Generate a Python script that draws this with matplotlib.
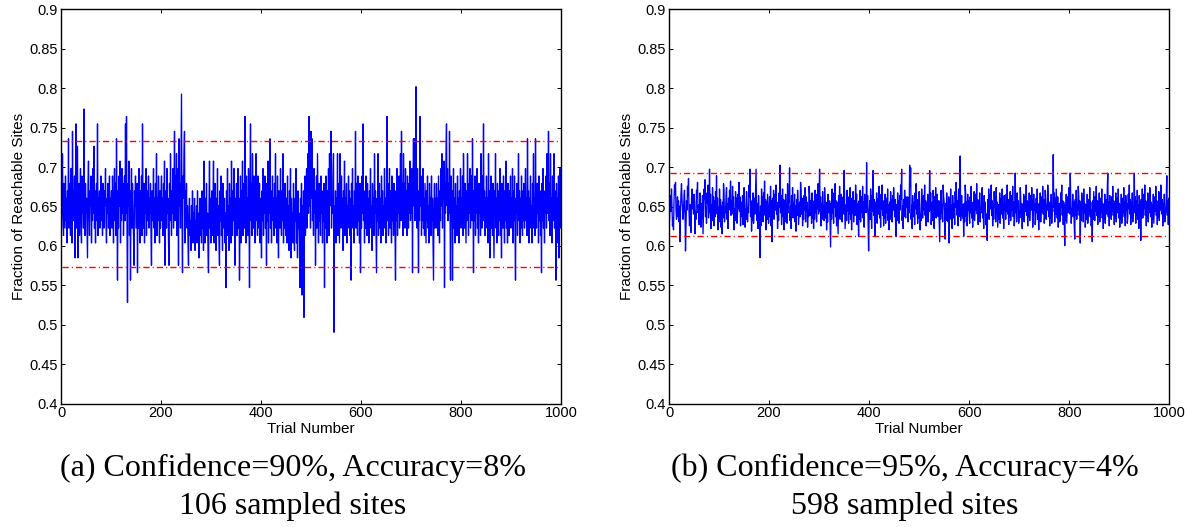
import numpy as np
import matplotlib
matplotlib.use("Agg")
import matplotlib.pyplot as plt
from matplotlib.ticker import FormatStrFormatter

plt.rcParams['font.family'] = ['Liberation Sans', 'DejaVu Sans']
plt.rcParams['lines.scale_dashes'] = False

# reachable-site counts per trial (out of the sampled sites)
sites_a = 106
sites_b = 598
counts_a = [
    66,70,76,68,65,72,69,66,73,67,70,64,71,68,78,66,72,69,65,74,68,64,79,67,71,
    68,73,62,70,80,66,71,77,62,69,72,65,70,74,67,64,73,68,71,66,82,69,65,72,68,
    70,66,62,72,75,68,65,71,69,73,64,70,67,74,68,77,66,71,64,69,72,67,80,65,70,
    68,71,66,69,73,67,70,65,72,68,66,71,69,74,67,64,70,68,72,66,69,73,65,70,67,
    71,66,73,68,64,70,74,67,72,65,78,68,59,71,66,73,69,75,64,70,67,74,68,72,65,
    70,73,67,80,68,81,66,56,72,69,75,65,71,59,70,74,66,72,68,65,61,71,69,73,66,
    69,72,60,70,66,74,68,64,71,67,73,65,80,69,66,72,64,70,68,74,65,71,67,69,73,
    66,70,68,72,65,61,71,67,69,74,66,70,64,72,68,76,65,70,67,73,69,64,71,66,70,
    73,67,70,65,72,68,75,61,69,71,66,74,68,70,64,61,72,67,76,69,65,71,68,74,66,
    70,79,67,73,68,76,65,71,74,61,78,69,72,66,75,84,68,60,73,70,76,79,64,71,67,
    72,66,69,64,61,68,70,65,67,63,69,66,71,64,68,65,70,63,67,66,69,64,71,65,68,
    62,67,70,65,68,64,71,66,69,63,75,67,64,70,66,72,65,68,63,60,69,75,66,70,64,
    68,71,65,69,75,64,67,72,66,63,70,68,74,65,69,64,61,71,67,73,65,69,63,72,68,
    66,70,64,68,58,71,67,74,65,69,63,72,66,70,64,75,68,65,71,67,74,66,61,70,68,
    72,65,69,74,66,70,59,68,73,64,71,67,75,65,69,72,66,81,68,64,73,67,70,65,74,
    68,58,71,80,67,72,65,76,69,66,73,68,64,71,76,67,70,65,73,69,66,72,64,70,68,
    62,71,67,74,65,70,68,73,66,69,61,72,67,75,64,70,68,78,66,71,64,69,73,67,70,
    65,72,68,76,66,70,64,73,67,62,71,69,66,74,68,65,71,67,76,64,70,66,72,68,65,
    70,64,73,66,69,63,71,67,74,62,70,65,68,64,72,66,63,70,67,74,64,69,62,71,66,
    68,64,58,70,66,72,57,69,63,71,54,67,73,65,70,74,66,71,76,68,81,69,75,66,79,
    70,78,67,72,65,74,68,71,61,69,73,66,76,70,64,72,67,69,65,73,68,70,64,71,67,
    72,58,69,66,73,68,64,71,67,74,65,76,69,72,79,66,70,68,73,76,52,69,66,71,64,
    70,67,76,65,72,68,64,76,69,66,73,67,70,63,71,68,75,65,70,67,72,64,69,66,73,
    68,71,65,70,59,72,67,74,66,69,64,71,68,79,66,72,69,65,73,67,70,64,72,60,69,
    66,73,68,80,67,71,64,70,66,73,68,65,72,67,70,64,71,68,74,66,69,63,72,67,70,
    65,76,68,71,66,60,70,67,76,65,69,72,66,70,64,73,68,71,65,69,67,74,66,70,64,
    70,81,67,72,65,69,74,66,71,68,64,73,67,70,65,72,68,66,59,71,67,74,65,70,68,
    73,66,70,76,67,79,68,72,65,76,69,72,66,74,68,71,65,73,69,66,72,68,75,67,71,
    68,74,60,72,78,69,78,67,73,85,70,66,74,68,60,71,67,81,69,73,65,71,67,74,66,
    70,65,72,68,64,71,67,73,66,69,64,72,68,70,65,73,67,70,64,59,69,72,66,70,67,
    72,66,70,65,73,68,64,71,67,74,69,76,66,73,70,75,58,72,68,76,80,69,74,67,72,
    68,79,70,59,73,67,71,59,69,74,66,70,64,72,67,69,65,73,68,70,64,71,67,74,66,
    70,68,73,65,76,69,66,72,68,64,71,67,76,70,65,72,68,74,66,70,73,67,78,69,60,
    71,67,73,65,70,68,74,66,69,64,72,68,71,65,76,69,66,73,68,80,67,71,65,70,68,
    73,66,70,64,76,68,71,62,69,73,66,70,65,72,67,62,71,68,76,66,70,64,72,68,65,
    71,67,74,65,69,62,72,68,66,73,69,64,71,67,75,66,70,64,72,68,65,71,67,73,66,
    70,68,74,64,71,67,73,66,59,70,68,72,65,69,76,67,71,64,70,66,73,68,65,71,67,
    72,66,69,74,67,70,65,78,68,71,64,70,67,73,66,69,64,72,68,76,66,70,65,78,69,
    66,72,68,70,64,73,67,71,65,69,60,72,67,74,66,70,64,71,68,73,66,76,68,70,79,
    67,72,65,76,68,70,64,73,67,69,76,66,71,68,59,72,67,70,64,73,62,69,74,66,68,
]
counts_b = [
    378,391,397,385,402,389,374,380,371,393,405,398,407,386,379,384,396,381,393,377,389,362,385,399,406,
    394,388,379,384,397,401,383,355,376,393,386,404,397,410,385,374,390,381,369,395,402,387,396,383,398,
    392,368,385,379,401,396,407,384,390,375,382,399,386,373,391,380,397,368,385,402,394,409,381,388,376,
    399,391,405,380,386,417,384,398,372,390,378,403,387,396,374,393,381,400,389,412,383,395,371,388,377,
    402,385,394,373,389,368,392,380,406,399,377,388,384,397,403,379,391,372,395,386,401,389,408,382,393,
    383,404,391,396,371,387,378,400,389,395,376,384,398,387,407,385,396,374,392,381,386,397,375,383,403,
    394,373,387,379,400,391,377,388,384,405,396,417,381,393,370,390,378,399,376,387,395,383,402,417,389,
    378,391,372,397,385,380,350,389,374,402,383,396,377,399,386,408,382,394,371,392,379,398,387,376,384,
    396,381,404,374,393,362,395,380,401,379,390,398,386,405,383,392,372,391,378,399,388,420,384,397,375,
    386,402,381,394,371,393,377,398,387,390,376,406,384,396,392,418,378,389,372,397,385,403,380,391,386,
    398,377,389,370,394,382,401,393,375,384,392,381,407,400,383,395,374,390,379,397,386,403,377,396,385,
    392,373,386,381,404,398,382,393,388,376,399,380,391,372,393,379,401,384,395,377,398,387,406,383,394,
    417,385,396,374,391,379,400,383,389,378,403,395,380,392,371,390,377,398,387,384,393,376,358,391,379,
    402,384,395,376,399,388,406,381,393,374,392,380,368,397,385,404,379,391,398,386,377,389,396,383,416,
    392,372,381,390,378,401,385,396,376,394,383,403,379,391,371,395,384,400,377,388,393,382,405,386,398,
    375,391,382,366,393,379,401,377,389,396,384,404,380,392,373,398,386,390,384,422,385,397,376,355,381,
    393,379,402,390,372,397,385,416,382,394,375,366,392,381,399,376,388,395,383,404,380,391,373,398,387,
    405,382,393,374,391,380,398,376,387,395,384,402,378,390,371,392,379,400,383,394,377,397,386,403,391,
    381,394,374,366,390,378,399,382,393,376,397,386,405,394,417,378,389,372,394,381,401,387,380,396,390,
    388,396,377,395,384,420,404,418,379,390,372,397,385,381,392,375,399,387,406,383,394,376,393,380,400,
    389,371,383,378,402,394,380,391,397,386,405,382,393,374,391,379,398,377,387,385,416,386,399,375,381,
    392,378,401,390,372,396,384,403,380,391,398,387,381,393,376,362,393,379,401,384,390,377,405,396,392,
    383,364,391,378,399,388,385,377,396,361,394,382,402,379,390,372,397,386,380,391,375,400,388,407,394,
    382,393,374,402,381,395,427,378,389,397,385,380,390,366,391,377,405,399,381,392,374,398,386,393,382,
    376,396,384,404,380,391,373,392,379,400,378,389,398,386,406,383,394,375,393,381,399,377,388,384,395,
    403,380,391,372,397,386,392,375,381,383,363,394,380,402,379,390,398,387,405,382,393,374,391,379,400,
    388,396,377,403,384,392,373,381,390,379,399,376,387,395,383,402,380,391,372,397,386,390,379,398,385,
    405,383,394,375,393,381,400,378,389,397,386,404,381,392,374,380,414,384,395,377,399,388,393,376,382,
    384,403,396,380,391,372,390,379,398,377,388,396,385,405,382,393,374,392,381,399,378,389,397,386,403,
    392,373,381,398,386,391,375,380,395,384,402,379,390,371,391,378,399,377,388,396,385,404,383,394,376,
    382,401,393,379,390,386,405,397,381,392,374,391,380,398,376,387,385,428,388,399,377,395,383,402,391,
    380,396,373,385,391,377,380,399,388,405,382,393,375,392,381,359,390,378,398,376,387,396,384,403,392,
    383,414,394,376,387,383,398,381,392,374,364,394,382,401,379,390,386,404,397,382,393,361,391,378,399,
    388,395,377,402,384,391,373,380,390,379,398,376,387,394,383,403,381,392,374,386,362,393,379,400,389,
    378,396,385,404,382,393,375,392,381,399,377,388,395,384,402,380,391,372,390,379,398,376,387,394,383,
    401,414,381,392,374,397,386,390,379,396,385,404,382,393,375,391,380,399,377,388,395,384,402,380,391,
    373,390,379,398,376,387,395,384,403,381,392,374,397,386,391,376,380,398,387,405,383,394,375,392,381,
    399,377,388,385,414,384,396,376,393,382,401,379,390,372,397,386,392,363,394,380,402,380,391,398,387,
    405,382,393,374,391,380,399,377,388,384,403,395,381,392,373,390,379,398,376,387,396,385,404,382,393,
    375,392,381,400,378,389,386,405,397,383,394,374,391,380,398,377,387,384,396,412,382,393,375,395,386,
]
mean_est = 0.653
accuracy_a = 0.08
accuracy_b = 0.04
captions = [("(a) Confidence=90%, Accuracy=8%", "106 sampled sites"),
            ("(b) Confidence=95%, Accuracy=4%", "598 sampled sites")]

assert len(counts_a) == 1000 and len(counts_b) == 1000

fig = plt.figure(figsize=(11.87, 5.27), dpi=100)
ax1 = fig.add_axes([61/1187, 1-403.7/527, 500/1187, 394.4/527])
ax2 = fig.add_axes([669/1187, 1-403.7/527, 500.3/1187, 394.4/527])

panels = [(ax1, counts_a, sites_a, accuracy_a), (ax2, counts_b, sites_b, accuracy_b)]
for ax, counts, sites, acc in panels:
    frac = np.array(counts) / sites
    trials = np.arange(1, len(frac) + 1)
    ax.plot(trials, frac, color='#0000ff', lw=0.95)
    ax.hlines([mean_est + acc, mean_est - acc], trials[0], trials[-1],
              colors='#ff0000', lw=1.0, linestyles=[(0, (4.5, 2.2, 0.8, 2.2))])
    ax.set_xlim(0, 1000)
    ax.set_ylim(0.4, 0.9)
    ax.set_xticks(np.arange(0, 1001, 200))
    ax.set_yticks(np.arange(0.4, 0.901, 0.05))
    ax.yaxis.set_major_formatter(FormatStrFormatter('%g'))
    ax.tick_params(direction='in', top=True, right=True, length=3, width=0.7,
                   labelsize=10.5, pad=2)
    for s in ax.spines.values():
        s.set_linewidth(1.0)
    ax.set_xlabel('Trial Number', fontsize=11, labelpad=1)
    ax.set_ylabel('Fraction of Reachable Sites', fontsize=11, labelpad=3)

for (l1, l2), xc in zip(captions, [293/1187, 905/1187]):
    fig.text(xc, 1-468/527, l1, ha='center', va='center', fontsize=23,
             family=['Liberation Serif', 'DejaVu Serif'])
    fig.text(xc, 1-506/527, l2, ha='center', va='center', fontsize=23,
             family=['Liberation Serif', 'DejaVu Serif'])

fig.savefig('out.png', dpi=100)
